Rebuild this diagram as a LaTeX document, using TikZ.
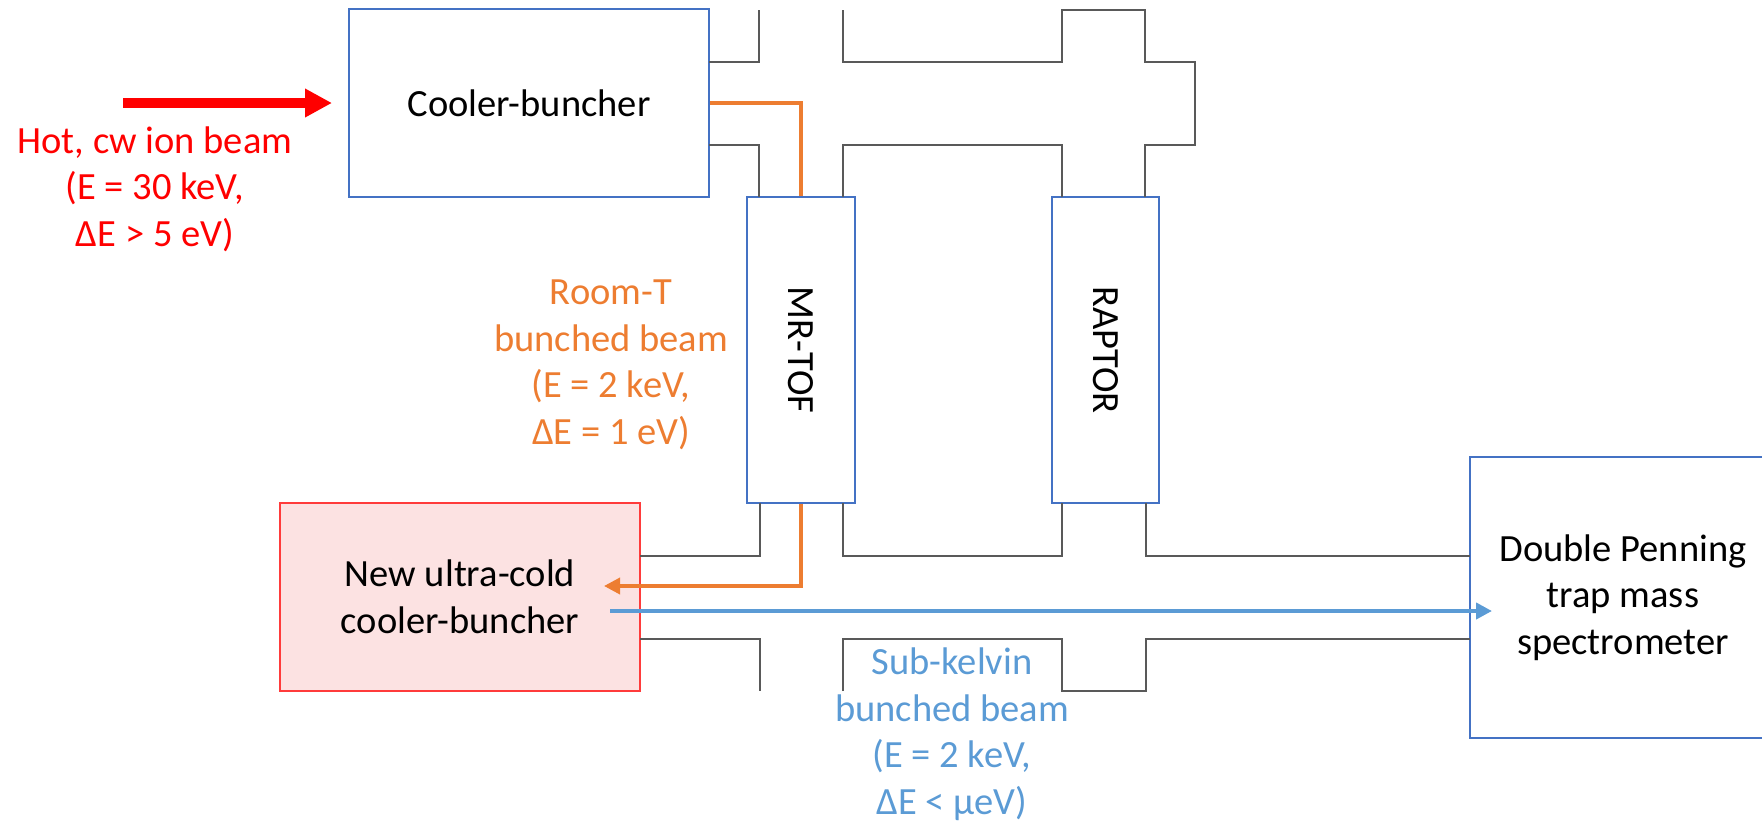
\documentclass[tikz,border=0pt]{standalone}
\usepackage{fontspec}
\setmainfont{Carlito}
\usetikzlibrary{arrows.meta}
\definecolor{boxblue}{HTML}{4472C4}
\definecolor{hotred}{HTML}{FF0000}
\definecolor{rtorange}{HTML}{ED7D31}
\definecolor{skblue}{HTML}{5B9BD5}
\definecolor{coldfill}{HTML}{FCE2E2}
\definecolor{coldedge}{HTML}{FF3B3B}
\begin{document}
\begin{tikzpicture}[x=0.5pt,y=-0.5pt,
    every node/.style={font=\fontsize{19.25}{23.25}\selectfont,inner sep=0pt,align=center},
    box/.style={draw=boxblue,line width=1pt},
    pipe/.style={draw=black!65,line width=0.8pt},
    hotbeam/.style={hotred,line width=5pt,-{Triangle[length=13.5pt,width=13.5pt]}},
    rtbeam/.style={rtorange,line width=1.8pt},
    skbeam/.style={skblue,line width=2pt,-{Triangle[length=8pt,width=8pt]}}]
  \path[use as bounding box,clip] (0,0) rectangle (1762,825);
  % boxes
  \node[box,minimum width=180pt,minimum height=94pt] (cooler) at (529,103) {Cooler-buncher};
  \node[box,minimum width=54pt,minimum height=153pt] (mrtof) at (801,350) {\rotatebox{-90}{MR-TOF}};
  \node[box,minimum width=53.5pt,minimum height=153pt] (raptor) at (1105.5,350) {\rotatebox{-90}{RAPTOR}};
  \node[draw=coldedge,fill=coldfill,line width=1pt,minimum width=180pt,minimum height=94pt] (ucb) at (460,597) {New ultra-cold\\cooler-buncher};
  \node[box,minimum width=153pt,minimum height=140.5pt] (penning) at (1623,597.5) {Double Penning\\trap mass\\spectrometer};
  % beam line walls
  \draw[pipe] (709,62) -- (759,62) -- (759,10);
  \draw[pipe] (843,10) -- (843,62) -- (1062,62) -- (1062,10) -- (1145,10) -- (1145,62)
    -- (1195,62) -- (1195,145) -- (1145,145) -- (1145,197);
  \draw[pipe] (709,145) -- (759,145) -- (759,197);
  \draw[pipe] (843,197) -- (843,145) -- (1062,145) -- (1062,197);
  \draw[pipe] (640,556) -- (760,556) -- (760,503);
  \draw[pipe] (843,503) -- (843,556) -- (1062,556) -- (1062,503);
  \draw[pipe] (1146,503) -- (1146,556) -- (1470,556);
  \draw[pipe] (640,639) -- (760,639) -- (760,691);
  \draw[pipe] (843,691) -- (843,639) -- (1062,639) -- (1062,691) -- (1146,691)
    -- (1146,639) -- (1470,639);
  % beams
  \coordinate (hotin) at (123,103);
  \coordinate (rtin) at (604,586);
  \coordinate (skout) at (610,611);
  \coordinate (skin) at (1492,611);
  \draw[hotbeam] (hotin) -- ([xshift=-8pt]cooler.west);
  \draw[rtbeam] (cooler.east) -| (mrtof.north);
  \draw[rtbeam,-{Triangle[length=8pt,width=8pt]}] (mrtof.south) |- (rtin);
  \draw[skbeam] (skout) -- (skin);
  % labels
  \node[text=hotred] (hotlbl) at (155,189) {Hot, cw ion beam\\(E = 30 keV,\\ΔE > 5 eV)};
  \node[text=rtorange] (rtlbl) at (611,365) {Room-T\\bunched beam\\(E = 2 keV,\\ΔE = 1 eV)};
  \node[text=skblue] (sklbl) at (952,734) {Sub-kelvin\\bunched beam\\(E = 2 keV,\\ΔE < μeV)};
\end{tikzpicture}
\end{document}
